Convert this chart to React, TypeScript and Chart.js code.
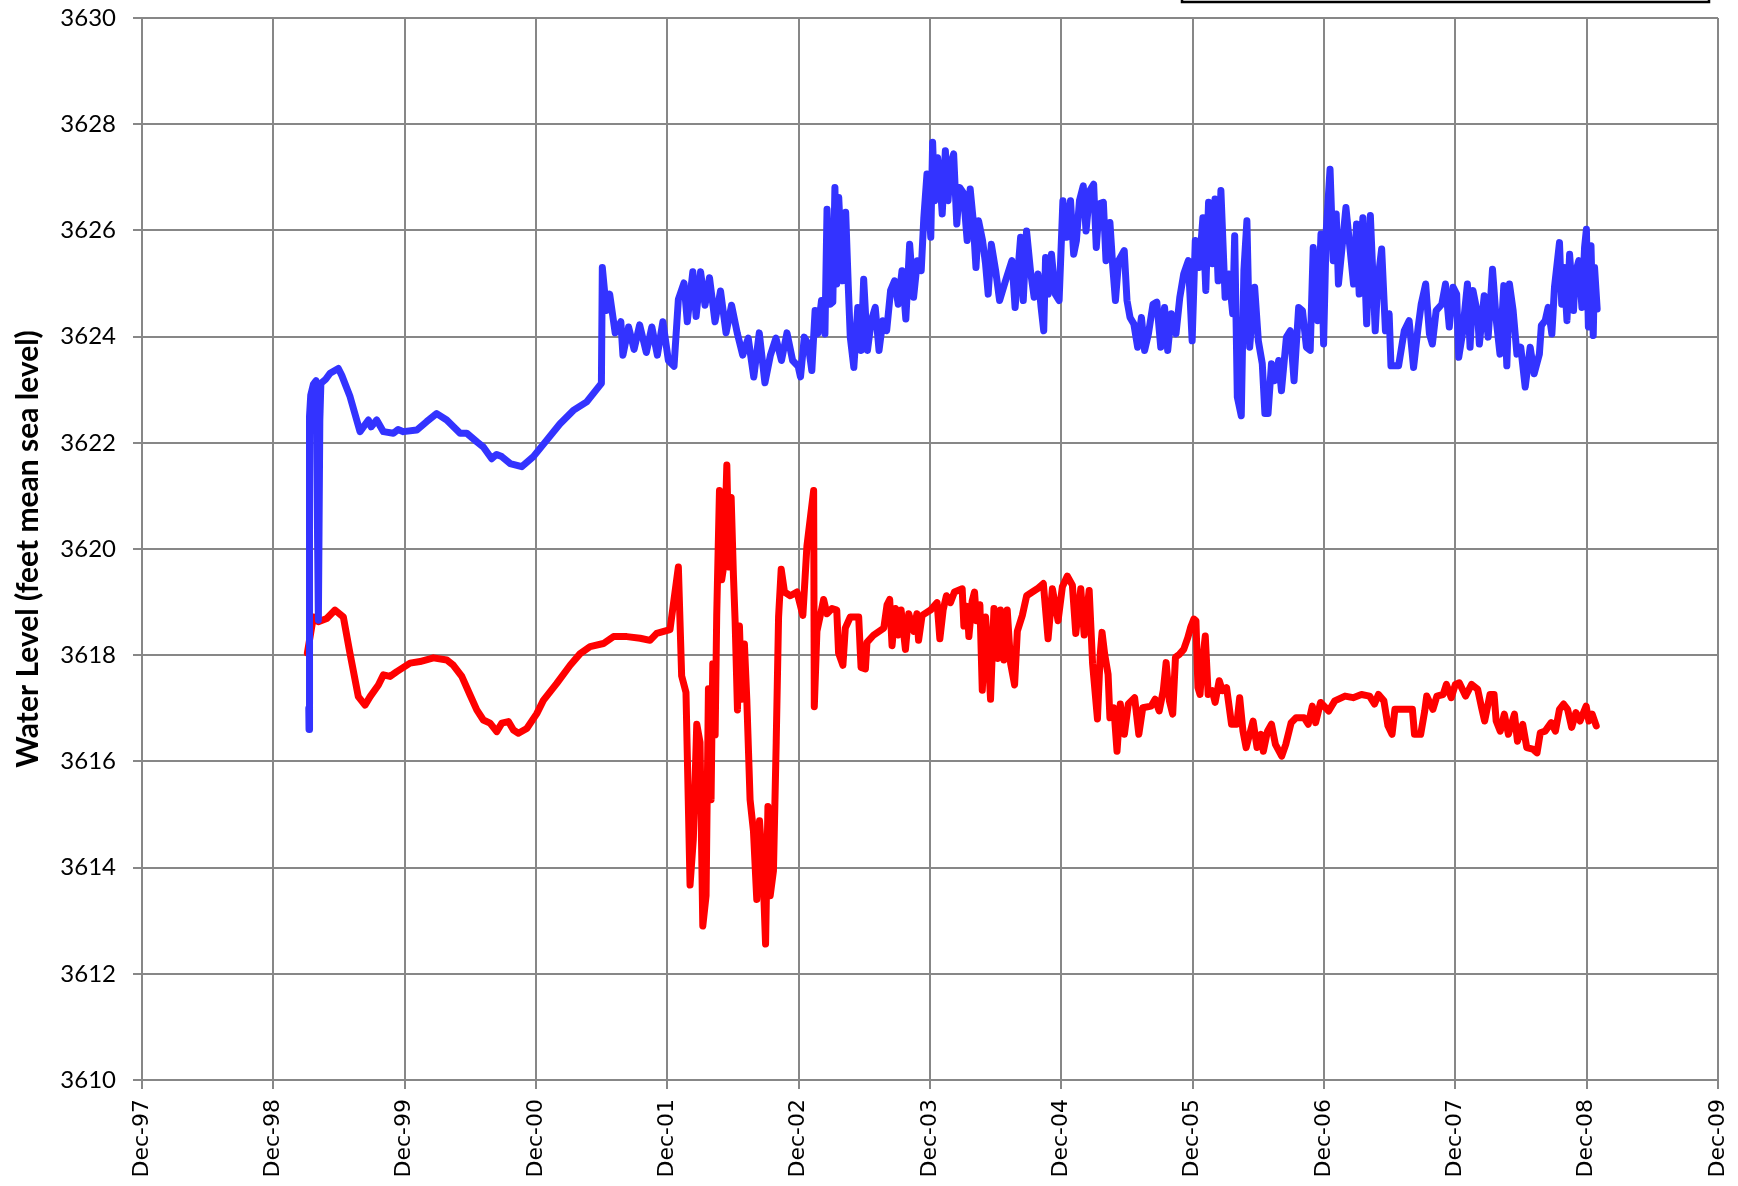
import React, { useEffect, useRef } from 'react';
import { Chart, registerables } from 'chart.js';

Chart.register(...registerables);

// X axis: years elapsed since Dec-1997 (tick i = Dec of 1997 + i)
const xTickLabels = ['Dec-97', 'Dec-98', 'Dec-99', 'Dec-00', 'Dec-01', 'Dec-02', 'Dec-03', 'Dec-04', 'Dec-05', 'Dec-06', 'Dec-07', 'Dec-08', 'Dec-09'];
const yTickValues = [3610, 3612, 3614, 3616, 3618, 3620, 3622, 3624, 3626, 3628, 3630];

// Blue well: time (years since Dec-97) and water level (ft msl)
const blueT = [
  1.270, 1.272, 1.274, 1.277, 1.285, 1.305, 1.325, 1.343, 1.354, 1.362, 1.400, 1.432, 1.495, 1.521, 1.584, 1.660, 1.724, 1.745, 1.787, 1.838,
  1.914, 1.950, 1.990, 2.092, 2.168, 2.244, 2.320, 2.422, 2.473, 2.549, 2.599, 2.663, 2.700, 2.739, 2.803, 2.892, 2.980, 3.082, 3.183, 3.284,
  3.386, 3.498, 3.505, 3.536, 3.561, 3.603, 3.646, 3.662, 3.705, 3.747, 3.789, 3.840, 3.882, 3.924, 3.966, 4.008, 4.051, 4.084, 4.127, 4.152,
  4.194, 4.219, 4.253, 4.287, 4.321, 4.363, 4.405, 4.447, 4.489, 4.532, 4.574, 4.616, 4.658, 4.700, 4.743, 4.785, 4.827, 4.869, 4.911, 4.954,
  4.996, 5.014, 5.043, 5.072, 5.100, 5.125, 5.145, 5.174, 5.200, 5.216, 5.240, 5.260, 5.276, 5.290, 5.305, 5.335, 5.358, 5.378, 5.393, 5.420,
  5.450, 5.475, 5.495, 5.524, 5.553, 5.583, 5.612, 5.641, 5.670, 5.700, 5.730, 5.758, 5.787, 5.816, 5.845, 5.875, 5.904, 5.933, 5.953, 5.977,
  6.006, 6.020, 6.035, 6.058, 6.080, 6.093, 6.117, 6.137, 6.158, 6.180, 6.204, 6.225, 6.254, 6.283, 6.306, 6.327, 6.350, 6.370, 6.400, 6.423,
  6.443, 6.467, 6.500, 6.530, 6.575, 6.624, 6.648, 6.690, 6.710, 6.735, 6.765, 6.793, 6.822, 6.846, 6.866, 6.880, 6.900, 6.925, 6.954, 6.983,
  7.012, 7.040, 7.070, 7.094, 7.115, 7.138, 7.167, 7.188, 7.217, 7.246, 7.266, 7.290, 7.320, 7.340, 7.370, 7.392, 7.412, 7.436, 7.479, 7.500,
  7.523, 7.552, 7.581, 7.610, 7.634, 7.663, 7.698, 7.727, 7.757, 7.786, 7.810, 7.838, 7.873, 7.902, 7.932, 7.967, 7.996, 8.020, 8.050, 8.078,
  8.100, 8.121, 8.150, 8.170, 8.194, 8.215, 8.247, 8.276, 8.305, 8.320, 8.340, 8.370, 8.390, 8.413, 8.434, 8.472, 8.500, 8.530, 8.550, 8.574,
  8.600, 8.626, 8.655, 8.676, 8.714, 8.743, 8.772, 8.807, 8.836, 8.866, 8.895, 8.918, 8.953, 8.977, 8.997, 9.017, 9.046, 9.070, 9.093, 9.110,
  9.167, 9.225, 9.248, 9.268, 9.296, 9.325, 9.353, 9.390, 9.410, 9.439, 9.468, 9.496, 9.510, 9.568, 9.611, 9.648, 9.682, 9.717, 9.740, 9.774,
  9.803, 9.825, 9.854, 9.897, 9.925, 9.954, 9.983, 10.010, 10.026, 10.054, 10.092, 10.112, 10.134, 10.169, 10.183, 10.220, 10.250, 10.283, 10.312, 10.340,
  10.369, 10.392, 10.412, 10.440, 10.469, 10.498, 10.532, 10.570, 10.600, 10.640, 10.655, 10.684, 10.707, 10.735, 10.755, 10.793, 10.810, 10.827, 10.850, 10.870,
  10.900, 10.913, 10.940, 10.964, 10.984, 10.998, 11.013, 11.033, 11.050, 11.060, 11.080,
];
const blueV = [
  3617.00, 3616.60, 3620.50, 3622.50, 3622.90, 3623.10, 3623.17, 3618.66, 3622.43, 3623.12, 3623.20, 3623.31, 3623.40, 3623.27, 3622.87, 3622.21, 3622.43, 3622.30, 3622.43, 3622.21,
  3622.18, 3622.25, 3622.21, 3622.24, 3622.40, 3622.55, 3622.43, 3622.18, 3622.18, 3622.02, 3621.92, 3621.70, 3621.78, 3621.74, 3621.61, 3621.55, 3621.74, 3622.05, 3622.36, 3622.61,
  3622.77, 3623.12, 3625.30, 3624.49, 3624.80, 3624.07, 3624.28, 3623.65, 3624.18, 3623.76, 3624.22, 3623.70, 3624.18, 3623.65, 3624.28, 3623.55, 3623.44, 3624.70, 3625.01, 3624.28,
  3625.22, 3624.38, 3625.22, 3624.59, 3625.11, 3624.28, 3624.86, 3624.07, 3624.59, 3624.07, 3623.65, 3623.97, 3623.24, 3624.07, 3623.13, 3623.65, 3623.97, 3623.55, 3624.07, 3623.55,
  3623.44, 3623.24, 3623.99, 3623.86, 3623.36, 3624.49, 3624.05, 3624.68, 3624.05, 3626.40, 3624.61, 3624.65, 3626.81, 3624.99, 3626.62, 3625.05, 3626.34, 3624.93, 3623.99, 3623.42,
  3624.55, 3623.74, 3625.08, 3623.74, 3624.30, 3624.55, 3623.74, 3624.30, 3624.11, 3624.87, 3625.05, 3624.61, 3625.24, 3624.33, 3625.74, 3624.74, 3625.43, 3625.24, 3626.24, 3627.06,
  3625.87, 3627.66, 3626.56, 3627.37, 3626.81, 3626.31, 3627.50, 3626.56, 3627.25, 3627.44, 3626.12, 3626.81, 3626.71, 3625.81, 3626.78, 3626.24, 3625.30, 3626.18, 3625.81, 3625.37,
  3624.80, 3625.74, 3625.24, 3624.68, 3625.05, 3625.43, 3624.55, 3625.87, 3624.68, 3625.99, 3625.24, 3624.74, 3625.18, 3624.55, 3624.11, 3625.49, 3624.80, 3625.55, 3624.80, 3624.68,
  3626.56, 3625.87, 3626.56, 3625.55, 3625.81, 3626.56, 3626.84, 3625.99, 3626.75, 3626.87, 3625.68, 3626.50, 3626.53, 3625.43, 3626.15, 3625.30, 3624.68, 3625.43, 3625.62, 3624.68,
  3624.36, 3624.24, 3623.80, 3624.36, 3623.74, 3624.05, 3624.61, 3624.65, 3623.80, 3624.55, 3623.74, 3624.43, 3624.05, 3624.74, 3625.18, 3625.43, 3623.92, 3625.81, 3625.30, 3626.24,
  3624.87, 3626.53, 3625.37, 3626.59, 3625.05, 3626.75, 3624.74, 3625.18, 3624.43, 3625.90, 3622.86, 3622.51, 3625.24, 3626.18, 3623.80, 3624.93, 3623.92, 3623.49, 3622.55, 3622.55,
  3623.49, 3623.17, 3623.55, 3622.98, 3623.99, 3624.11, 3623.17, 3624.55, 3624.49, 3623.80, 3623.74, 3625.68, 3624.30, 3625.93, 3623.86, 3625.99, 3627.15, 3625.43, 3626.31, 3624.99,
  3626.43, 3624.99, 3626.12, 3624.80, 3626.24, 3624.24, 3626.28, 3624.11, 3625.05, 3625.65, 3624.11, 3624.43, 3623.45, 3623.45, 3624.11, 3624.30, 3623.42, 3624.18, 3624.61, 3624.99,
  3624.05, 3623.86, 3624.49, 3624.61, 3624.99, 3624.18, 3624.93, 3624.80, 3623.61, 3624.05, 3624.99, 3623.80, 3624.87, 3624.43, 3623.86, 3624.77, 3623.99, 3625.27, 3624.30, 3623.67,
  3624.96, 3623.45, 3624.99, 3624.49, 3623.67, 3623.80, 3623.05, 3623.80, 3623.30, 3623.67, 3624.21, 3624.30, 3624.55, 3624.05, 3624.93, 3625.77, 3624.61, 3625.30, 3624.30, 3625.55,
  3624.49, 3625.18, 3625.43, 3624.55, 3625.68, 3626.02, 3624.18, 3625.71, 3624.02, 3625.30, 3624.52,
];

// Red well: time (years since Dec-97) and water level (ft msl)
const redT = [
  1.259, 1.305, 1.343, 1.407, 1.470, 1.533, 1.584, 1.647, 1.698, 1.737, 1.800, 1.838, 1.889, 1.940, 2.041, 2.117, 2.219, 2.321, 2.371, 2.435,
  2.498, 2.549, 2.599, 2.650, 2.701, 2.740, 2.790, 2.828, 2.866, 2.930, 3.006, 3.056, 3.158, 3.260, 3.336, 3.412, 3.513, 3.590, 3.692, 3.793,
  3.868, 3.919, 4.020, 4.084, 4.109, 4.142, 4.173, 4.198, 4.224, 4.249, 4.270, 4.295, 4.313, 4.333, 4.346, 4.364, 4.376, 4.397, 4.414, 4.432,
  4.453, 4.470, 4.486, 4.503, 4.516, 4.534, 4.549, 4.567, 4.587, 4.605, 4.630, 4.656, 4.681, 4.702, 4.727, 4.748, 4.766, 4.783, 4.808, 4.829,
  4.847, 4.867, 4.892, 4.936, 4.987, 5.032, 5.063, 5.114, 5.119, 5.139, 5.165, 5.190, 5.215, 5.254, 5.290, 5.304, 5.337, 5.355, 5.393, 5.457,
  5.475, 5.508, 5.520, 5.571, 5.648, 5.673, 5.693, 5.711, 5.737, 5.762, 5.780, 5.813, 5.838, 5.876, 5.900, 5.913, 5.940, 6.004, 6.054, 6.075,
  6.100, 6.125, 6.156, 6.186, 6.245, 6.258, 6.283, 6.296, 6.321, 6.339, 6.354, 6.380, 6.398, 6.423, 6.444, 6.461, 6.487, 6.517, 6.537, 6.563,
  6.588, 6.614, 6.644, 6.665, 6.703, 6.736, 6.779, 6.817, 6.863, 6.899, 6.932, 6.975, 7.008, 7.046, 7.084, 7.110, 7.148, 7.174, 7.212, 7.238,
  7.275, 7.296, 7.310, 7.330, 7.356, 7.370, 7.400, 7.424, 7.449, 7.480, 7.510, 7.558, 7.590, 7.620, 7.683, 7.714, 7.745, 7.776, 7.798, 7.823,
  7.848, 7.869, 7.900, 7.932, 7.963, 7.984, 8.009, 8.025, 8.040, 8.056, 8.070, 8.096, 8.118, 8.149, 8.171, 8.202, 8.227, 8.258, 8.296, 8.336,
  8.358, 8.383, 8.407, 8.440, 8.460, 8.490, 8.520, 8.538, 8.570, 8.600, 8.630, 8.678, 8.709, 8.750, 8.787, 8.850, 8.880, 8.911, 8.936, 8.974,
  9.036, 9.082, 9.160, 9.222, 9.285, 9.347, 9.384, 9.415, 9.456, 9.487, 9.518, 9.540, 9.596, 9.673, 9.689, 9.736, 9.767, 9.782, 9.829, 9.860,
  9.907, 9.932, 9.969, 10.000, 10.030, 10.078, 10.124, 10.170, 10.200, 10.223, 10.264, 10.295, 10.311, 10.342, 10.373, 10.404, 10.450, 10.473, 10.513, 10.544,
  10.590, 10.622, 10.647, 10.684, 10.730, 10.762, 10.793, 10.824, 10.855, 10.886, 10.918, 10.949, 10.996, 11.017, 11.042, 11.073,
];
const redV = [
  3618.04, 3618.72, 3618.63, 3618.69, 3618.85, 3618.72, 3618.03, 3617.22, 3617.06, 3617.22, 3617.44, 3617.63, 3617.60, 3617.69, 3617.85, 3617.88, 3617.95, 3617.91, 3617.81, 3617.60,
  3617.25, 3616.97, 3616.78, 3616.72, 3616.56, 3616.72, 3616.75, 3616.59, 3616.53, 3616.62, 3616.90, 3617.15, 3617.47, 3617.81, 3618.03, 3618.16, 3618.22, 3618.35, 3618.35, 3618.32,
  3618.28, 3618.41, 3618.48, 3619.66, 3617.61, 3617.30, 3613.67, 3614.54, 3616.70, 3616.36, 3612.90, 3613.47, 3617.37, 3615.28, 3617.84, 3616.50, 3618.75, 3621.10, 3619.42, 3619.72,
  3621.58, 3619.66, 3620.97, 3619.52, 3618.65, 3616.97, 3618.55, 3617.17, 3618.21, 3617.17, 3615.28, 3614.68, 3613.40, 3614.88, 3614.00, 3612.56, 3615.15, 3613.47, 3613.94, 3616.36,
  3618.72, 3619.62, 3619.19, 3619.12, 3619.19, 3618.75, 3620.06, 3621.10, 3617.03, 3618.45, 3618.75, 3619.05, 3618.78, 3618.88, 3618.85, 3618.04, 3617.81, 3618.51, 3618.72, 3618.72,
  3617.77, 3617.74, 3618.24, 3618.38, 3618.51, 3618.95, 3619.05, 3618.18, 3618.88, 3618.38, 3618.85, 3618.11, 3618.78, 3618.45, 3618.78, 3618.28, 3618.75, 3618.85, 3618.99, 3618.31,
  3618.85, 3619.12, 3618.99, 3619.19, 3619.25, 3618.55, 3618.92, 3618.35, 3619.02, 3619.19, 3618.65, 3618.95, 3617.34, 3618.72, 3617.98, 3617.17, 3618.88, 3617.94, 3618.85, 3617.91,
  3618.85, 3617.84, 3617.44, 3618.45, 3618.75, 3619.12, 3619.19, 3619.25, 3619.35, 3618.31, 3619.25, 3618.65, 3619.29, 3619.49, 3619.32, 3618.41, 3619.25, 3618.38, 3619.22, 3617.84,
  3616.80, 3618.01, 3618.43, 3618.02, 3617.64, 3616.82, 3617.01, 3616.19, 3617.08, 3616.51, 3617.08, 3617.20, 3616.51, 3617.01, 3617.04, 3617.17, 3616.95, 3617.33, 3617.86, 3617.14,
  3616.89, 3617.96, 3618.02, 3618.11, 3618.33, 3618.52, 3618.68, 3618.65, 3617.39, 3617.26, 3617.77, 3618.36, 3617.26, 3617.33, 3617.11, 3617.52, 3617.33, 3617.39, 3616.70, 3616.70,
  3617.20, 3616.57, 3616.26, 3616.57, 3616.76, 3616.26, 3616.51, 3616.19, 3616.57, 3616.70, 3616.32, 3616.10, 3616.32, 3616.73, 3616.82, 3616.82, 3616.70, 3617.04, 3616.73, 3617.11,
  3616.95, 3617.14, 3617.23, 3617.20, 3617.26, 3617.23, 3617.08, 3617.26, 3617.14, 3616.67, 3616.51, 3616.98, 3616.98, 3616.98, 3616.51, 3616.51, 3616.95, 3617.23, 3616.98, 3617.23,
  3617.26, 3617.45, 3617.20, 3617.45, 3617.48, 3617.23, 3617.45, 3617.36, 3617.01, 3616.76, 3617.26, 3617.26, 3616.76, 3616.57, 3616.89, 3616.51, 3616.89, 3616.38, 3616.70, 3616.26,
  3616.23, 3616.16, 3616.54, 3616.57, 3616.73, 3616.57, 3616.98, 3617.08, 3616.98, 3616.64, 3616.92, 3616.76, 3617.04, 3616.76, 3616.89, 3616.67,
];

const GRID = '#878787';

// Frame of the (cropped-off) legend box at the top edge
const legendFrame = {
  id: 'legendFrame',
  afterDraw(chart: any) {
    const ctx = chart.ctx;
    ctx.save();
    ctx.strokeStyle = '#000000';
    ctx.lineWidth = 2.5;
    ctx.strokeRect(1182, -20, 527, 22);
    ctx.restore();
  },
};

const zeroPads = (s: any) => {
  s.paddingTop = 0;
  s.paddingBottom = 0;
  s.paddingLeft = 0;
  s.paddingRight = 0;
};

export default function App() {
  const ref = useRef<HTMLCanvasElement | null>(null);

  useEffect(() => {
    document.body.style.margin = '0';
    if (!ref.current) return;
    const chart = new Chart(ref.current, {
      type: 'line',
      data: {
        datasets: [
          {
            label: 'Blue well',
            data: blueT.map((t, i) => ({ x: t, y: blueV[i] })),
            borderColor: '#3333FF',
            backgroundColor: '#3333FF',
            borderWidth: 7,
            pointRadius: 0,
            tension: 0,
            borderJoinStyle: 'round',
            borderCapStyle: 'round',
          },
          {
            label: 'Red well',
            data: redT.map((t, i) => ({ x: t, y: redV[i] })),
            borderColor: '#FF0000',
            backgroundColor: '#FF0000',
            borderWidth: 7,
            pointRadius: 0,
            tension: 0,
            borderJoinStyle: 'round',
            borderCapStyle: 'round',
          },
        ],
      },
      options: {
        responsive: false,
        animation: false,
        devicePixelRatio: 1,
        layout: { padding: { top: 18, right: 20, left: 0, bottom: 0 } },
        plugins: { legend: { display: false }, tooltip: { enabled: false } },
        scales: {
          x: {
            type: 'linear',
            min: 0,
            max: 12,
            afterBuildTicks: (s: any) => { s.ticks = xTickLabels.map((_, i) => ({ value: i })); },
            afterFit: (s: any) => { s.height = 106; zeroPads(s); },
            grid: { color: GRID, lineWidth: 2, tickLength: 9, drawTicks: true },
            border: { color: GRID, width: 2 },
            ticks: {
              autoSkip: false,
              maxRotation: 90,
              minRotation: 90,
              padding: 10,
              color: '#000000',
              font: { family: 'DejaVu Sans', size: 22 },
              callback: (_v: any, i: number) => xTickLabels[i],
            },
          },
          y: {
            type: 'linear',
            min: 3610,
            max: 3630,
            afterBuildTicks: (s: any) => { s.ticks = yTickValues.map((v) => ({ value: v })); },
            afterFit: (s: any) => { s.width = 142; zeroPads(s); },
            grid: { color: GRID, lineWidth: 2, tickLength: 9, drawTicks: true },
            border: { color: GRID, width: 2 },
            ticks: {
              padding: 17,
              color: '#000000',
              font: { family: 'Lato', size: 24 },
              callback: (v: any) => String(v),
            },
            title: {
              display: true,
              text: 'Water Level (feet mean sea level)',
              color: '#000000',
              font: { family: 'Lato', size: 30, weight: 'bold' },
              padding: { top: 10, bottom: 0 },
            },
          },
        },
      },
      plugins: [legendFrame],
    } as any);
    return () => chart.destroy();
  }, []);

  return (
    <div style={{ width: 1738, height: 1186, position: 'relative', background: '#ffffff' }}>
      <canvas ref={ref} width={1738} height={1186} style={{ display: 'block' }} />
    </div>
  );
}
